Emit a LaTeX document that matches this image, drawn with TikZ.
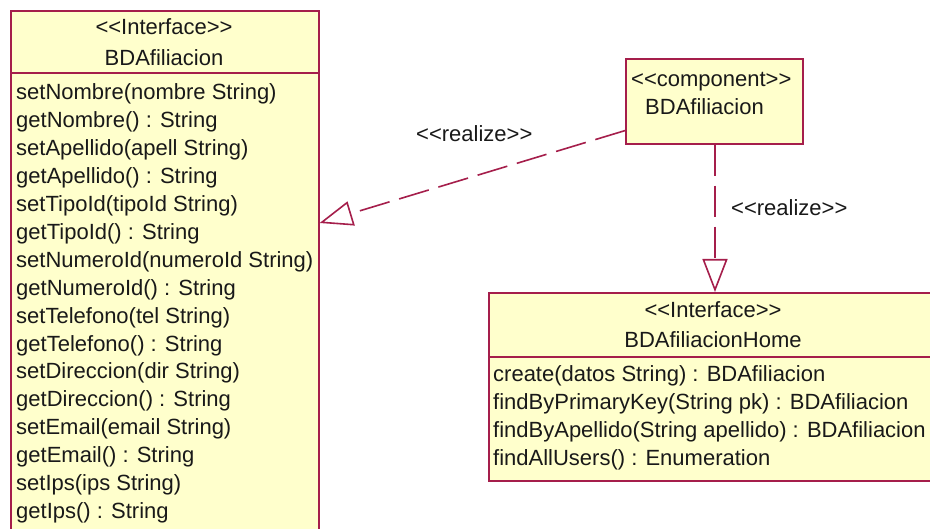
\documentclass[tikz,border=0pt]{standalone}
\usepackage{fontspec}
\setmainfont{Liberation Sans}[Ligatures={TeXOff,CommonOff}]
\usetikzlibrary{arrows.meta}
\definecolor{umlline}{RGB}{165,30,75}
\definecolor{umlfill}{RGB}{255,255,204}
\begin{document}
\begin{tikzpicture}[x=1pt,y=-1pt,
  umlbox/.style={draw=umlline, fill=umlfill, line width=1.6pt, rectangle, inner sep=0pt, anchor=north west},
  divider/.style={draw=umlline, line width=1.6pt},
  txt/.style={anchor=base west, inner sep=0pt, font=\fontsize{22}{28}\selectfont, text=black!90},
  ctxt/.style={txt, anchor=base},
  realize/.style={draw=umlline, line width=1.6pt, dash pattern=on 31pt off 10pt,
    -{Triangle[open, length=33pt, width=25pt, line width=1.6pt]}}]
\path[use as bounding box, clip] (0,0) rectangle (930,529);
\fill[white] (0,0) rectangle (930,529);

% interface BDAfiliacion (runs past the lower edge)
\node[umlbox, minimum width=308pt, minimum height=540pt] (iface) at (10,10) {};
\draw[divider] ([yshift=-63pt]iface.north west) -- ([yshift=-63pt]iface.north east);
\node[ctxt] (ifaceStereo) at (164,35) {<<Interface>>};
\node[ctxt] (ifaceName) at (164,66) {BDAfiliacion};
\foreach \m [count=\i] in {setNombre(nombre String), getNombre() : String,
    setApellido(apell String), getApellido() : String,
    setTipoId(tipoId String), getTipoId() : String,
    setNumeroId(numeroId String), getNumeroId() : String,
    setTelefono(tel String), getTelefono() : String,
    setDireccion(dir String), getDireccion() : String,
    setEmail(email String), getEmail() : String,
    setIps(ips String), getIps() : String}
  \node[txt] (ifaceOp\i) at (16,{72.1+27.9*\i}) {\m};

% component BDAfiliacion
\node[umlbox, minimum width=177pt, minimum height=85pt] (comp) at (625,58) {};
\node[txt] (compStereo) at (631,87) {<<component>>};
\node[txt] (compName) at (645,115) {BDAfiliacion};

% interface BDAfiliacionHome (runs past the right edge)
\node[umlbox, minimum width=470pt, minimum height=188pt] (home) at (488,292) {};
\draw[divider] ([yshift=-65pt]home.north west) -- ([yshift=-65pt]home.north east);
\node[ctxt] (homeStereo) at (713,318) {<<Interface>>};
\node[ctxt] (homeName) at (713,348) {BDAfiliacionHome};
\foreach \m [count=\i] in {create(datos String) : BDAfiliacion,
    findByPrimaryKey(String pk) : BDAfiliacion,
    findByApellido(String apellido) : BDAfiliacion,
    findAllUsers() : Enumeration}
  \node[txt] (homeOp\i) at (493,{354+28*\i}) {\m};

% realizations
\draw[realize] ([yshift=14pt]comp.south west) -- (iface.east |- 0,223);
\node[txt] (realizeA) at (416,142) {<<realize>>};
\draw[realize] (comp.south -| 715,0) -- (home.north -| 715,0);
\node[txt] (realizeB) at (731,216) {<<realize>>};
\end{tikzpicture}
\end{document}
